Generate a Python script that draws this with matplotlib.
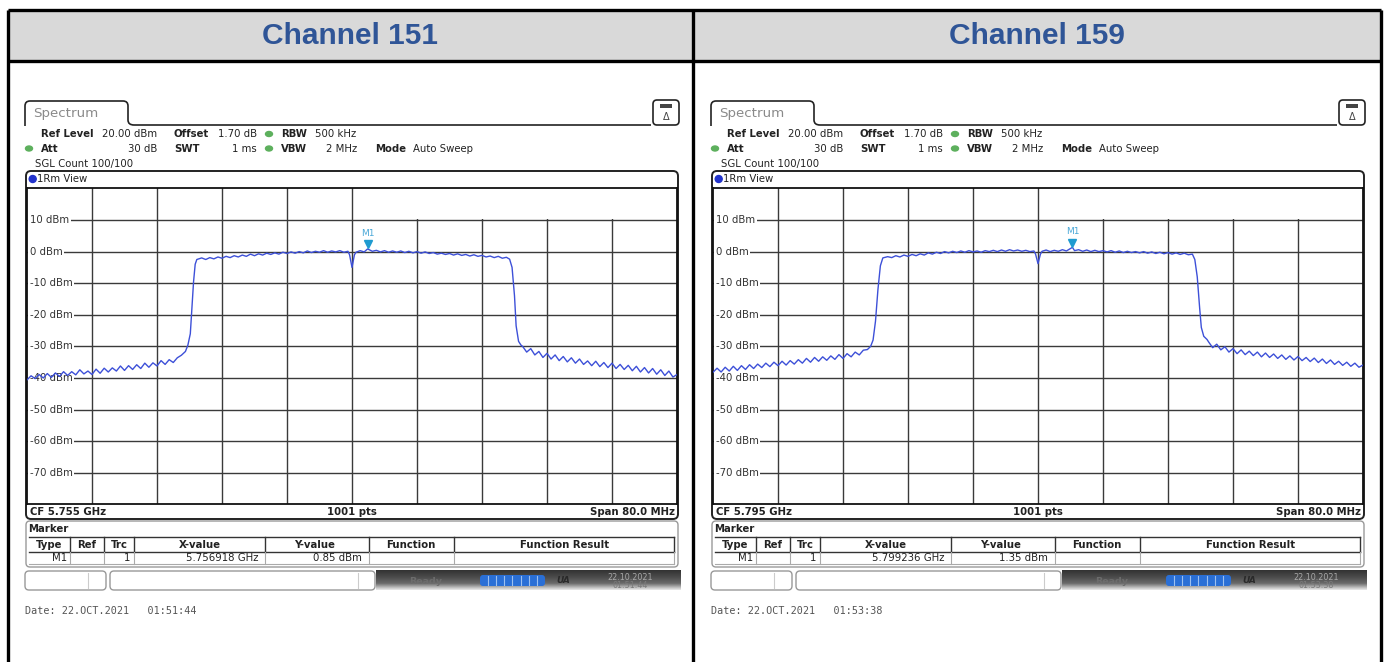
import numpy as np
import matplotlib
matplotlib.use('Agg')
import matplotlib.pyplot as plt
from matplotlib.patches import Rectangle, FancyBboxPatch, Ellipse, PathPatch
from matplotlib.path import Path
from matplotlib.colors import LinearSegmentedColormap

# Two R&S spectrum analyser screenshots (channel 151 / 159) side by side.

#%% Data
channel_names = ['Channel 151', 'Channel 159']
center_freq_ghz = [5.755, 5.795]
span_mhz = 80.0
marker_freq_ghz = [5.756918, 5.799236]
marker_level_dbm = [0.85, 1.35]
date_stamps = ['Date: 22.OCT.2021   01:51:44', 'Date: 22.OCT.2021   01:53:38']
level_ticks = [10, 0, -10, -20, -30, -40, -50, -60, -70]

# trace 1 of channel 151, offset from CF in MHz and level in dBm
ch151_offset_mhz = [
    -40.0, -39.5, -39.0, -38.5, -38.0, -37.5, -37.0, -36.5, -36.0, -35.5,
    -35.0, -34.5, -34.0, -33.5, -33.0, -32.5, -32.0, -31.5, -31.0, -30.5,
    -30.0, -29.5, -29.0, -28.5, -28.0, -27.5, -27.0, -26.5, -26.0, -25.5,
    -25.0, -24.5, -24.0, -23.5, -23.0, -22.5, -22.0, -21.5, -21.0, -20.5,
    -20.2, -19.9, -19.7, -19.5, -19.3, -19.1,
    -18.5, -18.0, -17.5, -17.0, -16.5, -16.0, -15.5, -15.0, -14.5, -14.0,
    -13.5, -13.0, -12.5, -12.0, -11.5, -11.0, -10.5, -10.0, -9.5, -9.0,
    -8.5, -8.0, -7.5, -7.0, -6.5, -6.0, -5.5, -5.0, -4.5, -4.0,
    -3.5, -3.0, -2.5, -2.0, -1.5, -1.0, -0.5, -0.3, 0.0, 0.3,
    0.5, 1.0, 1.5, 1.918, 2.5, 3.0, 3.5, 4.0, 4.5, 5.0,
    5.5, 6.0, 6.5, 7.0, 7.5, 8.0, 8.5, 9.0, 9.5, 10.0,
    10.5, 11.0, 11.5, 12.0, 12.5, 13.0, 13.5, 14.0, 14.5, 15.0,
    15.5, 16.0, 16.5, 17.0, 17.5, 18.0, 18.5, 19.0, 19.4,
    19.7, 20.0, 20.2, 20.5, 20.8,
    21.0, 21.5, 22.0, 22.5, 23.0, 23.5, 24.0, 24.5, 25.0, 25.5,
    26.0, 26.5, 27.0, 27.5, 28.0, 28.5, 29.0, 29.5, 30.0, 30.5,
    31.0, 31.5, 32.0, 32.5, 33.0, 33.5, 34.0, 34.5, 35.0, 35.5,
    36.0, 36.5, 37.0, 37.5, 38.0, 38.5, 39.0, 39.5, 40.0]
ch151_level_dbm = [
    -40.6, -39.3, -40.2, -38.9, -40.0, -38.6, -39.8, -38.4, -39.5, -38.0,
    -39.2, -38.0, -39.0, -37.4, -38.7, -37.8, -38.9, -37.2, -38.5, -36.9,
    -38.1, -36.8, -37.8, -36.2, -37.6, -36.1, -37.3, -35.8, -37.0, -35.3,
    -36.6, -35.2, -36.2, -34.5, -35.7, -34.2, -35.1, -33.6, -32.8, -31.6,
    -29.6, -26.0, -18.0, -9.5, -4.0, -2.5,
    -2.0, -2.5, -1.9, -2.3, -1.7, -2.1, -1.5, -1.9, -1.3, -1.7,
    -1.1, -1.5, -0.8, -1.3, -0.7, -1.1, -0.5, -0.9, -0.4, -0.8,
    -0.2, -0.6, -0.1, -0.5, 0.0, -0.4, 0.2, -0.3, 0.1, -0.2,
    0.3, -0.2, 0.2, -0.1, 0.3, -0.2, 0.1, -1.0, -5.0, -1.0,
    -0.2, 0.3, -0.1, 0.85, 0.1, 0.4, -0.1, 0.3, -0.2, 0.2,
    -0.2, 0.2, -0.3, 0.1, -0.4, 0.0, -0.5, -0.1, -0.6, -0.3,
    -0.8, -0.5, -0.9, -0.6, -1.1, -0.7, -1.2, -0.9, -1.4, -1.0,
    -1.5, -1.2, -1.7, -1.4, -1.9, -1.5, -2.1, -1.8, -2.4,
    -5.0, -14.0, -23.5, -28.4, -29.6,
    -30.0, -31.8, -30.7, -32.7, -31.6, -33.5, -32.2, -34.0, -32.7, -34.5,
    -33.2, -34.9, -33.6, -35.3, -34.0, -35.7, -34.6, -36.1, -34.7, -36.4,
    -35.1, -36.7, -35.3, -37.0, -35.7, -37.3, -36.0, -37.7, -36.3, -38.1,
    -36.7, -38.4, -37.0, -38.8, -37.4, -39.2, -37.8, -39.7, -38.9]

# trace 1 of channel 159
ch159_offset_mhz = [
    -40.0, -39.5, -39.0, -38.5, -38.0, -37.5, -37.0, -36.5, -36.0, -35.5,
    -35.0, -34.5, -34.0, -33.5, -33.0, -32.5, -32.0, -31.5, -31.0, -30.5,
    -30.0, -29.5, -29.0, -28.5, -28.0, -27.5, -27.0, -26.5, -26.0, -25.5,
    -25.0, -24.5, -24.0, -23.5, -23.0, -22.5, -22.0, -21.5, -21.0,
    -20.6, -20.3, -20.0, -19.7, -19.4, -19.1,
    -18.5, -18.0, -17.5, -17.0, -16.5, -16.0, -15.5, -15.0, -14.5, -14.0,
    -13.5, -13.0, -12.5, -12.0, -11.5, -11.0, -10.5, -10.0, -9.5, -9.0,
    -8.5, -8.0, -7.5, -7.0, -6.5, -6.0, -5.5, -5.0, -4.5, -4.0,
    -3.5, -3.0, -2.5, -2.0, -1.5, -1.0, -0.5, -0.3, 0.0, 0.3,
    0.5, 1.0, 1.5, 2.0, 2.5, 3.0, 3.5, 4.236, 4.5, 5.0,
    5.5, 6.0, 6.5, 7.0, 7.5, 8.0, 8.5, 9.0, 9.5, 10.0,
    10.5, 11.0, 11.5, 12.0, 12.5, 13.0, 13.5, 14.0, 14.5, 15.0,
    15.5, 16.0, 16.5, 17.0, 17.5, 18.0, 18.5, 19.0,
    19.3, 19.6, 19.9, 20.1, 20.4, 20.8,
    21.0, 21.5, 22.0, 22.5, 23.0, 23.5, 24.0, 24.5, 25.0, 25.5,
    26.0, 26.5, 27.0, 27.5, 28.0, 28.5, 29.0, 29.5, 30.0, 30.5,
    31.0, 31.5, 32.0, 32.5, 33.0, 33.5, 34.0, 34.5, 35.0, 35.5,
    36.0, 36.5, 37.0, 37.5, 38.0, 38.5, 39.0, 39.5, 40.0]
ch159_level_dbm = [
    -38.2, -36.9, -38.1, -36.6, -37.8, -36.3, -37.6, -36.1, -37.3, -35.8,
    -37.0, -35.6, -36.7, -35.3, -36.4, -35.0, -36.1, -34.7, -35.9, -34.5,
    -35.6, -34.2, -35.3, -33.8, -35.0, -33.5, -34.7, -33.3, -34.4, -33.0,
    -34.1, -32.6, -33.8, -32.3, -33.3, -31.8, -32.7, -31.2, -31.0,
    -30.0, -28.0, -22.0, -12.0, -4.5, -2.0,
    -1.6, -1.9, -1.3, -1.7, -1.1, -1.5, -0.9, -1.3, -0.7, -1.1,
    -0.4, -0.8, -0.2, -0.6, 0.0, -0.4, 0.1, -0.3, 0.2, -0.2,
    0.3, -0.1, 0.2, -0.2, 0.3, 0.0, 0.4, 0.0, 0.5, 0.1,
    0.6, 0.2, 0.5, 0.1, 0.4, 0.0, 0.2, -0.8, -3.8, -0.8,
    0.1, 0.5, 0.0, 0.4, 0.1, 0.6, 0.2, 1.35, 0.3, 0.6,
    0.1, 0.5, 0.0, 0.4, 0.0, 0.3, -0.1, 0.3, -0.2, 0.2,
    -0.3, 0.1, -0.3, 0.0, -0.4, 0.0, -0.5, -0.1, -0.6, -0.2,
    -0.7, -0.3, -0.8, -0.4, -0.9, -0.5, -1.0, -0.8,
    -2.5, -8.0, -18.0, -24.0, -26.8, -27.8,
    -28.6, -30.4, -29.3, -31.1, -30.1, -31.8, -30.7, -32.3, -31.1, -32.6,
    -31.5, -32.9, -31.8, -33.3, -32.1, -33.5, -32.4, -33.8, -32.7, -34.1,
    -33.0, -34.3, -33.2, -34.5, -33.5, -34.8, -33.7, -35.1, -34.0, -35.4,
    -34.3, -35.7, -34.7, -36.0, -35.0, -36.3, -35.3, -36.6, -35.9]

trace_offsets = [ch151_offset_mhz, ch159_offset_mhz]
trace_levels = [ch151_level_dbm, ch159_level_dbm]

#%% Figure setup
W, H = 1386, 662
fig = plt.figure(figsize=(W / 100, H / 100), dpi=100)
bg = fig.add_axes([0, 0, 1, 1])
bg.set_xlim(0, W)
bg.set_ylim(H, 0)
bg.axis('off')

FS = 7.3  # analyser font size
TXT = '#222222'
CYAN = '#2a9ad6'
TRACE = '#3d50d8'


def txt(x, y, s, **kw):
    kw.setdefault('fontsize', FS)
    kw.setdefault('color', TXT)
    kw.setdefault('family', 'DejaVu Sans')
    bg.text(x, y, s, va='center', **kw)


def rbox(x0, y0, x1, y1, ec='#222222', fc='white', lw=1.2, r=4, z=1):
    bg.add_patch(FancyBboxPatch((x0, y0), x1 - x0, y1 - y0,
                                boxstyle=f'round,pad=0,rounding_size={r}',
                                fc=fc, ec=ec, lw=lw, zorder=z))


def dot(x, y, c='#5db05d', w=7, h=5):
    bg.add_patch(Ellipse((x, y), w, h, color=c, zorder=3))


# header cells of the table
bg.add_patch(Rectangle((8, 10), 1374, 51, fc='#d9d9d9', ec='none'))
for xx in [8, 693, 1381]:
    bg.plot([xx, xx], [10, H], color='black', lw=2.4, solid_capstyle='butt')
for yy in [10, 61]:
    bg.plot([8, 1381], [yy, yy], color='black', lw=2.4, solid_capstyle='butt')

grad_cmap = LinearSegmentedColormap.from_list('bar', ['#333333', '#4a4a4a', '#6a6a6a', '#e8e8e8'])


def draw_panel(i, dx):
    cf = center_freq_ghz[i]
    half = span_mhz / 2000.0
    mf = marker_freq_ghz[i]
    ml = marker_level_dbm[i]

    bg.text(350.5 + dx, 36, channel_names[i], ha='center', va='center', fontsize=21.5,
            fontweight='bold', color='#2F5597', family='Liberation Sans')

    # Spectrum tab and top line
    verts = [(25 + dx, 126), (25 + dx, 106), (25 + dx, 101), (30 + dx, 101), (123 + dx, 101),
             (128 + dx, 101), (128 + dx, 106), (128 + dx, 120), (128 + dx, 125), (134 + dx, 125),
             (651 + dx, 125)]
    codes = [Path.MOVETO, Path.LINETO, Path.CURVE3, Path.CURVE3, Path.LINETO, Path.CURVE3,
             Path.CURVE3, Path.LINETO, Path.CURVE3, Path.CURVE3, Path.LINETO]
    bg.add_patch(PathPatch(Path(verts, codes), fc='none', ec='#222222', lw=1.2))
    txt(32.7 + dx, 113, 'Spectrum', fontsize=9.6, color='#8a8a8a')

    # little icon on the right
    rbox(653 + dx, 100, 679 + dx, 125, r=4)
    bg.add_patch(Rectangle((660 + dx, 104), 12, 4, fc='#444444', ec='none', zorder=3))
    txt(666 + dx, 117, '\u0394', fontsize=7, ha='center', color='#444444')

    # settings
    txt(40.7 + dx, 134, 'Ref Level', fontweight='bold')
    txt(157 + dx, 134, '20.00 dBm', ha='right')
    txt(174 + dx, 134, 'Offset', fontweight='bold')
    txt(257 + dx, 134, '1.70 dB', ha='right')
    dot(269 + dx, 134)
    txt(280.7 + dx, 134, 'RBW', fontweight='bold')
    txt(315 + dx, 134, '500 kHz')
    dot(29 + dx, 148.5)
    txt(40.7 + dx, 148.5, 'Att', fontweight='bold')
    txt(157 + dx, 148.5, '30 dB', ha='right')
    txt(174 + dx, 148.5, 'SWT', fontweight='bold')
    txt(257 + dx, 148.5, '1 ms', ha='right')
    dot(269 + dx, 148.5)
    txt(280.7 + dx, 148.5, 'VBW', fontweight='bold')
    txt(357 + dx, 148.5, '2 MHz', ha='right')
    txt(375 + dx, 148.5, 'Mode', fontweight='bold')
    txt(413 + dx, 148.5, 'Auto Sweep')
    txt(35 + dx, 164, 'SGL Count 100/100')

    # diagram frame
    rbox(26 + dx, 171, 678 + dx, 519, lw=1.4, r=5)
    dot(32.7 + dx, 179, c='#2233cc', w=7, h=7)
    txt(36.7 + dx, 179, '1Rm View')
    txt(30 + dx, 511.7, f'CF {cf:.3f} GHz', fontweight='bold')
    txt(352 + dx, 511.7, '1001 pts', fontweight='bold', ha='center')
    txt(675 + dx, 511.7, f'Span {span_mhz:.1f} MHz', fontweight='bold', ha='right')

    # the plot itself
    ax = fig.add_axes([(27 + dx) / W, (H - 504.4) / H, 650 / W, 316 / H])
    ax.set_xlim(cf - half, cf + half)
    ax.set_ylim(-80, 20)
    ax.set_xticks(cf + np.linspace(-half, half, 11)[1:-1])
    ax.set_yticks(level_ticks)
    ax.grid(color='#3a3a3a', lw=1.0)
    ax.tick_params(length=0, labelbottom=False, labelleft=False)
    for s in ax.spines.values():
        s.set_color('#111111')
        s.set_linewidth(1.3)
    # white box for the marker readout
    ax.add_patch(Rectangle((cf + 0.00025, 10.2), half, 10, fc='white', ec='none', zorder=2))
    for lv in level_ticks:
        ax.text(3 / 650, lv, f'{lv} dBm', transform=ax.get_yaxis_transform(), va='center',
                fontsize=FS, color='#333333', family='DejaVu Sans', zorder=3,
                bbox=dict(fc='white', ec='none', pad=1.2))

    f = cf + np.array(trace_offsets[i]) / 1000.0
    ax.plot(f, trace_levels[i], color=TRACE, lw=1.0, zorder=4)
    ax.plot([mf], [ml + 1.4], marker='v', ms=6, color='#1f9bd0', zorder=5, ls='')
    ax.text(mf, ml + 5.0, 'M1', ha='center', va='center', fontsize=6.5, color='#4aa8d8', zorder=5)

    txt(422 + dx, 196, 'M1[1]', ha='center', family='DejaVu Sans Mono', fontweight='bold',
        color=CYAN, fontsize=7.5)
    txt(675 + dx, 196, f'{ml:.2f} dBm', ha='right', family='DejaVu Sans Mono', fontweight='bold',
        color=CYAN, fontsize=7.5)
    txt(675 + dx, 211, f'{mf:.7f} GHz', ha='right', family='DejaVu Sans Mono', fontweight='bold',
        color=CYAN, fontsize=7.5)

    # marker table
    rbox(26 + dx, 521, 678 + dx, 567, ec='#9a9a9a', lw=1.0, r=4)
    txt(28 + dx, 529, 'Marker', fontweight='bold')
    bg.plot([29 + dx, 674 + dx], [537, 537], color='#333333', lw=1.0)
    bg.plot([29 + dx, 674 + dx], [552, 552], color='#333333', lw=1.0)
    bg.plot([29 + dx, 674 + dx], [563.5, 563.5], color='#aaaaaa', lw=0.8)
    for xs in [70, 103.6, 134, 265, 369, 454, 674]:
        bg.plot([xs + dx, xs + dx], [537, 552], color='#333333', lw=1.0)
        bg.plot([xs + dx, xs + dx], [552, 563.5], color='#aaaaaa', lw=0.8)
    heads = [('Type', 49.5), ('Ref', 87), ('Trc', 119), ('X-value', 200), ('Y-value', 315),
             ('Function', 411), ('Function Result', 565)]
    for h, xc in heads:
        txt(xc + dx, 545, h, ha='center', fontweight='bold')
    txt(67 + dx, 557.7, 'M1', ha='right')
    txt(130 + dx, 557.7, '1', ha='right')
    txt(259 + dx, 557.7, f'{mf:.6f} GHz', ha='right')
    txt(362 + dx, 557.7, f'{ml:.2f} dBm', ha='right')

    # status bar
    rbox(25 + dx, 571, 106 + dx, 590, ec='#999999', lw=1.0, r=4)
    bg.plot([88 + dx, 88 + dx], [573, 588], color='#cccccc', lw=0.8)
    rbox(110 + dx, 571, 375 + dx, 590, ec='#999999', lw=1.0, r=4)
    bg.plot([358 + dx, 358 + dx], [573, 588], color='#cccccc', lw=0.8)
    grad = np.linspace(0, 1, 40).reshape(-1, 1)
    bg.imshow(grad, extent=(376 + dx, 681 + dx, 590, 570), cmap=grad_cmap, aspect='auto',
              origin='upper', zorder=1)
    txt(426 + dx, 582, 'Ready', ha='center', fontweight='bold', color='#6c6c6c', fontsize=6.8)
    bg.add_patch(FancyBboxPatch((480 + dx, 575), 65, 11, boxstyle='round,pad=0,rounding_size=3',
                                fc='#2a6fd6', ec='none', zorder=3))
    for k in range(1, 8):
        bg.plot([480 + dx + k * 8.1, 480 + dx + k * 8.1], [576, 585], color='#9cc0f0', lw=0.8, zorder=4)
    txt(563 + dx, 580.5, 'UA', ha='center', fontweight='bold', style='italic', color='#2a2a2a', fontsize=6.5)
    txt(630 + dx, 577, '22.10.2021', ha='center', color='#a8a8a8', fontsize=5.8)
    txt(630 + dx, 586, date_stamps[i][-8:], ha='center', color='#7a7a7a', fontsize=5.8)

    txt(25 + dx, 611, date_stamps[i], family='DejaVu Sans Mono', color='#555555', fontsize=7.3)


draw_panel(0, 0)
draw_panel(1, 686)
bg.set_xlim(0, W)
bg.set_ylim(H, 0)

plt.savefig('out.png', dpi=100)
